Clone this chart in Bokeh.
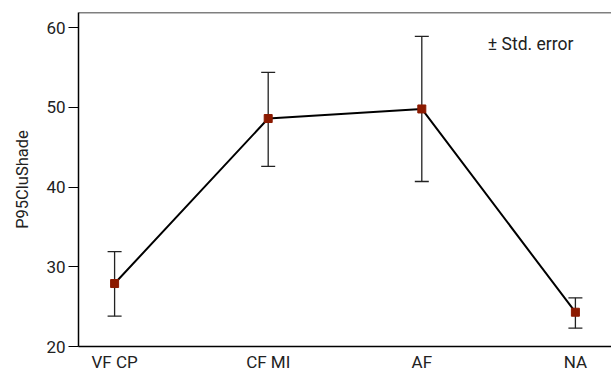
from bokeh.plotting import figure
from bokeh.models import Range1d, FixedTicker, Whisker, ColumnDataSource, Span, Label
from bokeh.embed import file_html
from bokeh.resources import INLINE

categories = ["VF CP", "CF MI", "AF", "NA"]
means = [27.9, 48.6, 49.8, 24.3]
upper = [31.9, 54.4, 58.9, 26.1]
lower = [23.8, 42.6, 40.7, 22.3]
y_ticks = [20, 30, 40, 50, 60]

FONT = "Roboto"

xs = list(range(len(categories)))
src = ColumnDataSource(dict(x=xs, mean=means, upper=upper, lower=lower))

p = figure(frame_width=533, frame_height=334, output_backend="svg", toolbar_location=None,
           x_range=Range1d(-0.235, 3.235), y_range=Range1d(20, 61.9),
           min_border_left=78, min_border_right=0, min_border_top=12, min_border_bottom=26)
p.outline_line_color = None
p.grid.grid_line_color = None
p.background_fill_color = "white"

p.xaxis.ticker = FixedTicker(ticks=xs)
p.xaxis.major_label_overrides = {i: c for i, c in enumerate(categories)}
p.xaxis.major_tick_line_color = None
p.xaxis.minor_tick_line_color = None
p.xaxis.major_tick_out = 0
p.xaxis.major_tick_in = 0
p.xaxis.major_label_standoff = 5
p.xaxis.major_label_text_font = FONT
p.xaxis.major_label_text_font_size = "17px"
p.xaxis.major_label_text_color = "#222222"
p.xaxis.axis_line_color = "black"
p.xaxis.axis_line_width = 1.5

p.yaxis.ticker = FixedTicker(ticks=y_ticks)
p.yaxis.minor_tick_line_color = None
p.yaxis.major_tick_out = 10
p.yaxis.major_tick_in = 0
p.yaxis.major_tick_line_width = 1.2
p.yaxis.major_label_text_font = FONT
p.yaxis.major_label_text_font_size = "17px"
p.yaxis.major_label_text_color = "#222222"
p.yaxis.major_label_standoff = 3
p.yaxis.axis_line_width = 1.5
p.yaxis.axis_label = "P95CluShade"
p.yaxis.axis_label_text_font = FONT
p.yaxis.axis_label_text_font_size = "16.5px"
p.yaxis.axis_label_text_font_style = "normal"
p.yaxis.axis_label_text_color = "#222222"
p.yaxis.axis_label_standoff = 11

p.add_layout(Span(location=61.9, dimension="width", line_color="black", line_width=1.5))

w = Whisker(source=src, base="x", upper="upper", lower="lower",
            line_color="#222222", line_width=1.3)
w.upper_head.size = 14
w.lower_head.size = 14
w.upper_head.line_color = "#222222"
w.lower_head.line_color = "#222222"
w.upper_head.line_width = 1.3
w.lower_head.line_width = 1.3
p.add_layout(w)

p.line("x", "mean", source=src, line_color="black", line_width=2)
p.scatter("x", "mean", source=src, marker="square", size=8,
          fill_color="#8B1A00", line_color="#8B1A00")

p.add_layout(Label(x=2.43, y=58.0, text="± Std. error", text_font=FONT,
                   text_font_size="17.5px", text_baseline="middle", text_color="#222222"))

open("out.html", "w").write(file_html(p, INLINE))
